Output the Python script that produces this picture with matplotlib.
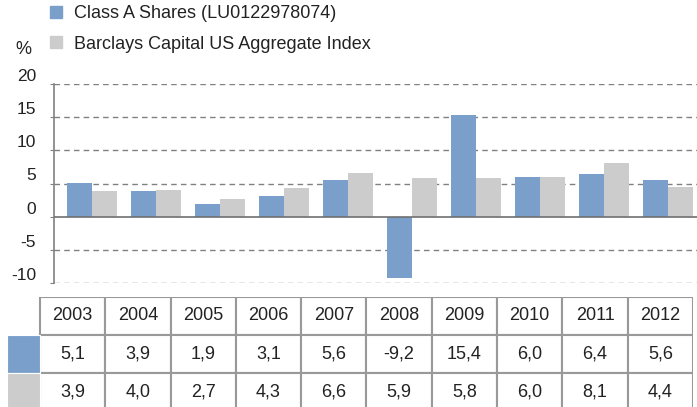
import matplotlib
matplotlib.use("Agg")
import matplotlib.pyplot as plt
from matplotlib.patches import Rectangle
from matplotlib.transforms import ScaledTranslation

years = ["2003", "2004", "2005", "2006", "2007", "2008", "2009", "2010", "2011", "2012"]
fund = [5.1, 3.9, 1.9, 3.1, 5.6, -9.2, 15.4, 6.0, 6.4, 5.6]
bench = [3.9, 4.0, 2.7, 4.3, 6.6, 5.9, 5.8, 6.0, 8.1, 4.4]
series_names = ["Class A Shares (LU0122978074)", "Barclays Capital US Aggregate Index"]
yticks = [-10, -5, 0, 5, 10, 15, 20]

BLUE = "#7a9fcb"
GREY = "#cccccc"
TXT = "#222222"

plt.rcParams["font.family"] = ["Liberation Sans", "DejaVu Sans"]
plt.rcParams["axes.unicode_minus"] = False

W, H = 697, 407
fig = plt.figure(figsize=(W / 100, H / 100), dpi=100)

# chart area
ax = fig.add_axes([54 / W, (H - 283) / H, (W - 54) / W, 199 / H])
x = list(range(len(years)))
bw = 0.39
ax.bar([i - bw / 2 for i in x], fund, width=bw, color=BLUE, zorder=3)
ax.bar([i + bw / 2 for i in x], bench, width=bw, color=GREY, zorder=3)
ax.set_xlim(-0.594, 9.45)
ax.set_ylim(-10, 20)
ax.set_yticks(yticks)
ax.set_yticklabels([str(v) for v in yticks], fontsize=12.5, color=TXT)
ax.set_xticks([])
for v in yticks:
    if v != 0:
        ax.axhline(v, color="#808080", lw=1, ls=(0, (4, 3)), zorder=1)
ax.axhline(0, color="#707070", lw=1.2, zorder=4)
for s in ["top", "right", "bottom"]:
    ax.spines[s].set_visible(False)
ax.spines["left"].set_color("#808080")
ax.spines["left"].set_linewidth(1.2)
ax.tick_params(axis="y", length=3, color="#808080", pad=10)
off = ScaledTranslation(0, 0.09, fig.dpi_scale_trans)
for lab in ax.get_yticklabels():
    lab.set_transform(lab.get_transform() + off)

# legend and unit
handles = [Rectangle((0, 0), 1, 1, color=BLUE), Rectangle((0, 0), 1, 1, color=GREY)]
fig.legend(handles, series_names, loc="upper left", bbox_to_anchor=(50 / W, 1 - 5 / H),
           frameon=False, fontsize=13, handlelength=0.65, handleheight=0.65,
           handletextpad=0.7, labelspacing=0.75, borderpad=0, borderaxespad=0,
           labelcolor=TXT)
fig.text(23 / W, 1 - 50 / H, "%", ha="center", va="center", fontsize=13, color=TXT)

# data table
tax = fig.add_axes([7 / W, (H - 411) / H, (693 - 7) / W, 114 / H])
tax.set_xlim(-0.505, len(years))
tax.set_ylim(3, 0)
tax.axis("off")
rows = [years,
        [f"{v:.1f}".replace(".", ",") for v in fund],
        [f"{v:.1f}".replace(".", ",") for v in bench]]
for r, row in enumerate(rows):
    for c, txt in enumerate(row):
        tax.add_patch(Rectangle((c, r), 1, 1, facecolor="white", edgecolor="#999999", lw=1.5))
        tax.text(c + 0.5, r + 0.5, txt, ha="center", va="center", fontsize=13, color=TXT)
tax.add_patch(Rectangle((-0.505, 1), 0.505, 1, facecolor=BLUE, edgecolor="white", lw=0.8))
tax.add_patch(Rectangle((-0.505, 2), 0.505, 1, facecolor=GREY, edgecolor="white", lw=0.8))

fig.savefig("out.png", dpi=100)
